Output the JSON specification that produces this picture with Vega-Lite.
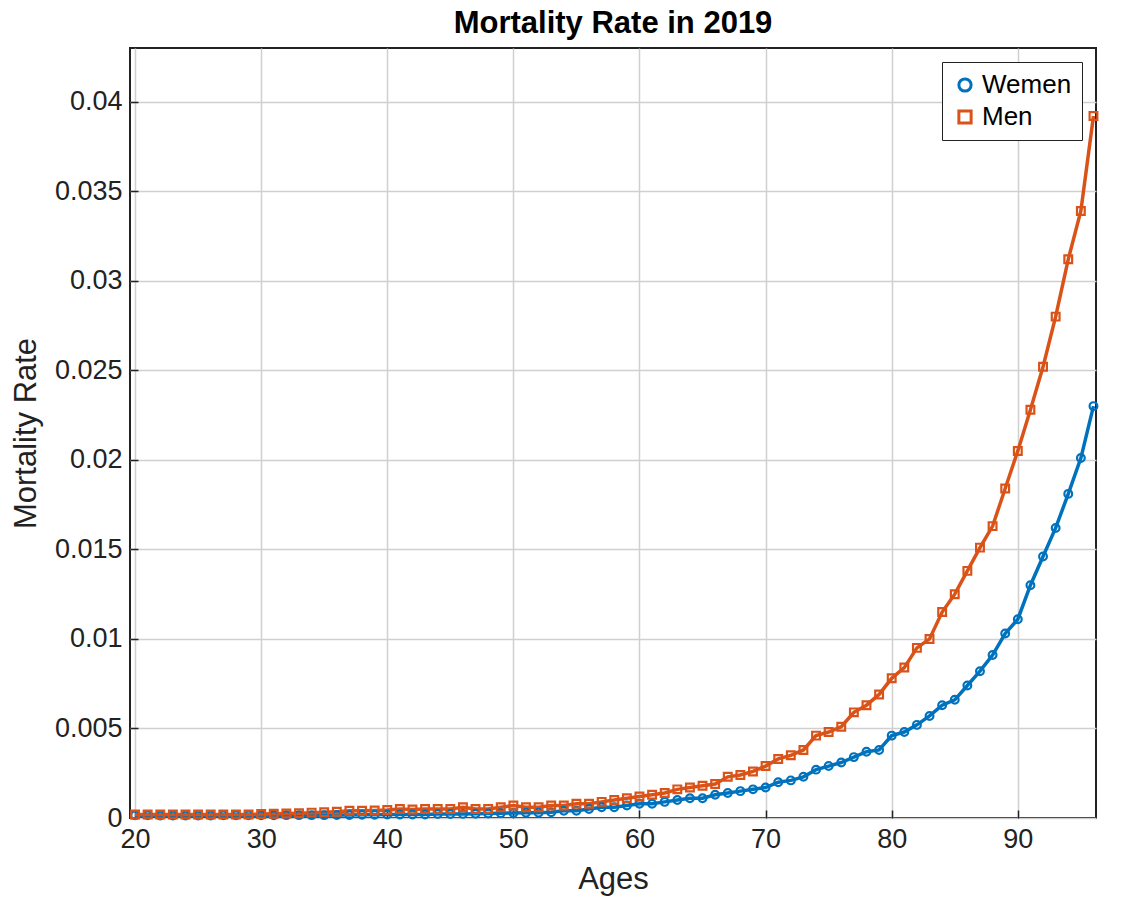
{
  "$schema": "https://vega.github.io/schema/vega-lite/v6.json",
  "width": 1126,
  "height": 904,
  "autosize": {"type": "fit", "contains": "padding"},
  "padding": {"left": 10, "right": 24, "top": 8, "bottom": 10},
  "config": {
    "font": "Liberation Sans",
    "view": {"stroke": "#222", "strokeWidth": 2},
    "axis": {"gridColor": "#d0d0d0", "gridWidth": 1.5, "domain": false, "tickColor": "#222", "tickSize": -8, "tickWidth": 1.5, "labelFontSize": 27, "labelColor": "#222", "titleFontSize": 31, "titleFontWeight": "normal", "titleColor": "#222", "labelPadding": 16, "titlePadding": 12}
  },
  "title": {"text": "Mortality Rate in 2019", "fontSize": 31, "fontWeight": "bold", "color": "#000", "offset": 8},
  "data": {"values": [
    {"age":20,"Wemen":0.00015,"Men":0.0002},{"age":21,"Wemen":0.00015,"Men":0.0002},{"age":22,"Wemen":0.00014,"Men":0.0002},{"age":23,"Wemen":0.00014,"Men":0.0002},{"age":24,"Wemen":0.00014,"Men":0.0002},{"age":25,"Wemen":0.00014,"Men":0.0002},{"age":26,"Wemen":0.00014,"Men":0.0002},{"age":27,"Wemen":0.00015,"Men":0.0002},{"age":28,"Wemen":0.00015,"Men":0.0002},{"age":29,"Wemen":0.00015,"Men":0.0002},
    {"age":30,"Wemen":0.00015,"Men":0.00022},{"age":31,"Wemen":0.00015,"Men":0.00024},{"age":32,"Wemen":0.00016,"Men":0.00025},{"age":33,"Wemen":0.00016,"Men":0.00027},{"age":34,"Wemen":0.00016,"Men":0.0003},{"age":35,"Wemen":0.00016,"Men":0.00032},{"age":36,"Wemen":0.00017,"Men":0.00035},{"age":37,"Wemen":0.00017,"Men":0.0004},{"age":38,"Wemen":0.00018,"Men":0.0004},{"age":39,"Wemen":0.00018,"Men":0.00042},
    {"age":40,"Wemen":0.0002,"Men":0.00045},{"age":41,"Wemen":0.0002,"Men":0.0005},{"age":42,"Wemen":0.0002,"Men":0.00048},{"age":43,"Wemen":0.0002,"Men":0.0005},{"age":44,"Wemen":0.00022,"Men":0.0005},{"age":45,"Wemen":0.00022,"Men":0.0005},{"age":46,"Wemen":0.00023,"Men":0.0006},{"age":47,"Wemen":0.00024,"Men":0.0005},{"age":48,"Wemen":0.00025,"Men":0.0005},{"age":49,"Wemen":0.00026,"Men":0.0006},
    {"age":50,"Wemen":0.00028,"Men":0.0007},{"age":51,"Wemen":0.0003,"Men":0.0006},{"age":52,"Wemen":0.0003,"Men":0.0006},{"age":53,"Wemen":0.00032,"Men":0.0007},{"age":54,"Wemen":0.0004,"Men":0.0007},{"age":55,"Wemen":0.0004,"Men":0.0008},{"age":56,"Wemen":0.0005,"Men":0.0008},{"age":57,"Wemen":0.0006,"Men":0.0009},{"age":58,"Wemen":0.0006,"Men":0.001},{"age":59,"Wemen":0.0007,"Men":0.0011},
    {"age":60,"Wemen":0.0008,"Men":0.0012},{"age":61,"Wemen":0.0008,"Men":0.0013},{"age":62,"Wemen":0.0009,"Men":0.0014},{"age":63,"Wemen":0.001,"Men":0.0016},{"age":64,"Wemen":0.0011,"Men":0.0017},{"age":65,"Wemen":0.0011,"Men":0.0018},{"age":66,"Wemen":0.0013,"Men":0.0019},{"age":67,"Wemen":0.0014,"Men":0.0023},{"age":68,"Wemen":0.0015,"Men":0.0024},{"age":69,"Wemen":0.0016,"Men":0.0026},
    {"age":70,"Wemen":0.0017,"Men":0.0029},{"age":71,"Wemen":0.002,"Men":0.0033},{"age":72,"Wemen":0.0021,"Men":0.0035},{"age":73,"Wemen":0.0023,"Men":0.0038},{"age":74,"Wemen":0.0027,"Men":0.0046},{"age":75,"Wemen":0.0029,"Men":0.0048},{"age":76,"Wemen":0.0031,"Men":0.0051},{"age":77,"Wemen":0.0034,"Men":0.0059},{"age":78,"Wemen":0.0037,"Men":0.0063},{"age":79,"Wemen":0.0038,"Men":0.0069},
    {"age":80,"Wemen":0.0046,"Men":0.0078},{"age":81,"Wemen":0.0048,"Men":0.0084},{"age":82,"Wemen":0.0052,"Men":0.0095},{"age":83,"Wemen":0.0057,"Men":0.01},{"age":84,"Wemen":0.0063,"Men":0.0115},{"age":85,"Wemen":0.0066,"Men":0.0125},{"age":86,"Wemen":0.0074,"Men":0.0138},{"age":87,"Wemen":0.0082,"Men":0.0151},{"age":88,"Wemen":0.0091,"Men":0.0163},{"age":89,"Wemen":0.0103,"Men":0.0184},
    {"age":90,"Wemen":0.0111,"Men":0.0205},{"age":91,"Wemen":0.013,"Men":0.0228},{"age":92,"Wemen":0.0146,"Men":0.0252},{"age":93,"Wemen":0.0162,"Men":0.028},{"age":94,"Wemen":0.0181,"Men":0.0312},{"age":95,"Wemen":0.0201,"Men":0.0339},{"age":96,"Wemen":0.023,"Men":0.0392}
  ]},
  "transform": [{"fold": ["Wemen", "Men"], "as": ["sex", "rate"]}],
  "encoding": {
    "x": {"field": "age", "type": "quantitative", "title": "Ages", "scale": {"domain": [19.6, 96.2], "nice": false, "zero": false}, "axis": {"values": [20, 30, 40, 50, 60, 70, 80, 90]}},
    "y": {"field": "rate", "type": "quantitative", "title": "Mortality Rate", "scale": {"domain": [0, 0.043], "nice": false}, "axis": {"values": [0, 0.005, 0.01, 0.015, 0.02, 0.025, 0.03, 0.035, 0.04], "format": "~g"}},
    "color": {"field": "sex", "type": "nominal", "scale": {"domain": ["Wemen", "Men"], "range": ["#0072BD", "#D95319"]},
      "legend": {"title": null, "orient": "top-right", "offset": 14, "labelFontSize": 26, "labelColor": "#000", "strokeColor": "#222", "fillColor": "white", "padding": 10, "symbolSize": 150, "symbolStrokeWidth": 3, "symbolOpacity": 1, "rowPadding": 6}}
  },
  "layer": [
    {"mark": {"type": "line", "strokeWidth": 3.5}},
    {"mark": {"type": "point", "filled": false, "strokeWidth": 2.2, "size": 60, "opacity": 1}, "encoding": {"shape": {"field": "sex", "scale": {"domain": ["Wemen", "Men"], "range": ["circle", "square"]}, "legend": null}}}
  ]
}
